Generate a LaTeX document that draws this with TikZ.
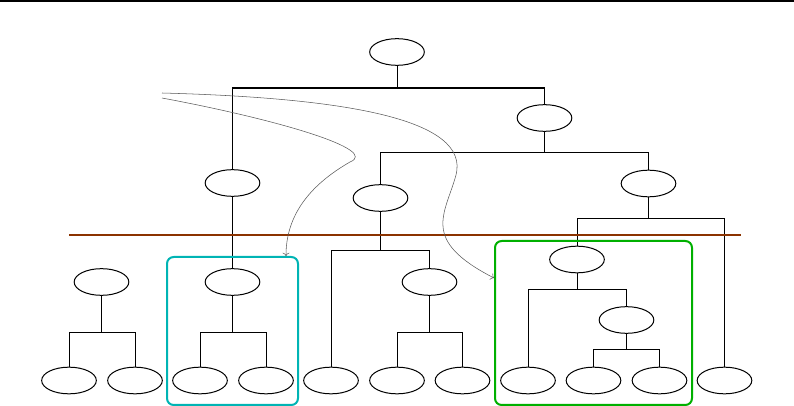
\documentclass[tikz,border=0pt]{standalone}
\usepackage{tikz}
\usetikzlibrary{shapes.geometric,arrows.meta}
\usepackage{xcolor}
\definecolor{cutcolor}{HTML}{8B3300}
\definecolor{tealbox}{HTML}{00B4B4}
\definecolor{greenbox}{HTML}{00B000}

\tikzset{
  vertex/.style={draw, ellipse, line width=0.75pt, minimum width=41pt, minimum height=20pt, inner sep=0pt},
  edge/.style={line width=0.75pt},
  hint/.style={->, gray!70!black, line width=0.4pt},
  group/.style={line width=1.5pt, rounded corners=5pt}
}

\begin{document}
\begin{tikzpicture}[x=0.75pt, y=-0.75pt, >=To]
    \useasboundingbox (0,0) rectangle (794,406);
    \draw[line width=1.7pt] (0,1.15) -- (794,1.15);

    \node[vertex] (root) at (397,52) {};
    \node[vertex] (A) at (232.5,183) {};
    \node[vertex] (B) at (544.5,118) {};
    \node[vertex] (C) at (380.5,198) {};
    \node[vertex] (D) at (648.5,183.5) {};
    \node[vertex] (E) at (101.5,282) {};
    \node[vertex] (F) at (232.5,282) {};
    \node[vertex] (G) at (429.5,282) {};
    \node[vertex] (H) at (577,259.5) {};
    \node[vertex] (I) at (626.5,320) {};
    \foreach \x [count=\i] in {69,135,200,266,331,397,462.5,528,593.5,659.5,724.5}
        \node[vertex] (l\i) at (\x,380.5) {};

    \foreach \p/\l/\r/\h in {root/A/B/88, B/C/D/153, D/H/l11/219, C/l5/G/251, E/l1/l2/333,
                             F/l3/l4/333, G/l6/l7/333, H/l8/I/290, I/l9/l10/350} {
        \draw[edge] (\p.south) -- (\p.south |- 0,\h);
        \draw[edge] (\l.north) |- (\r.north |- 0,\h) -- (\r.north);
    }
    \draw[edge, line width=1.4pt] (A.north |- 0,88) -- (B.north |- 0,88);
    \draw[edge] (A.south) -- (F.north);

    \draw[cutcolor, line width=2.1pt] (69,235) -- (741,235);

    \draw[group, tealbox] (167,257) rectangle (298,405);
    \draw[group, greenbox] (495,241) rectangle (692,405);

    \coordinate (s1) at (162,98);
    \coordinate (s2) at (162,93);
    \coordinate (t1) at (286,256);
    \coordinate (t2) at (494,278);
    \draw[hint] (s1) .. controls (280,120) and (380,150) .. (350,162)
                     .. controls (310,185) and (286,215) .. (t1);
    \draw[hint] (s2) .. controls (350,98) and (470,120) .. (456,175)
                     .. controls (445,215) and (420,240) .. (t2);
\end{tikzpicture}
\end{document}
